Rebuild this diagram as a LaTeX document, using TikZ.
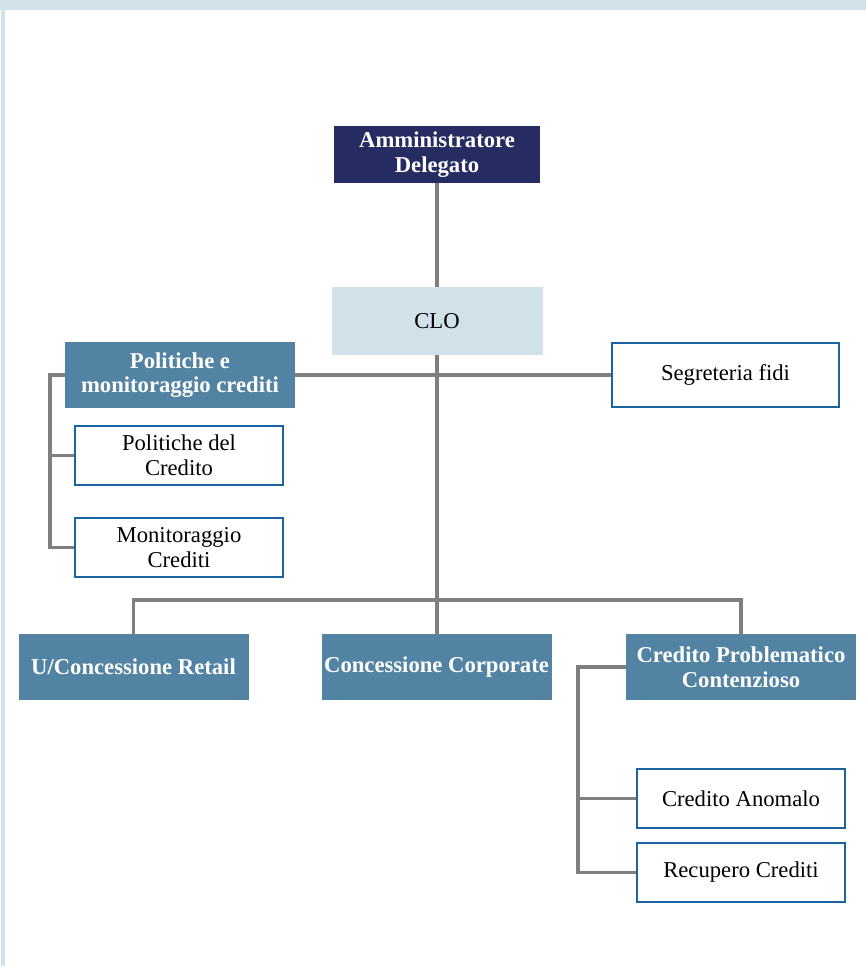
\documentclass[tikz,border=0pt]{standalone}
\usepackage{fontspec}
\setmainfont{Liberation Serif}
\usepackage{tikz}
\definecolor{navybox}{HTML}{262B62}
\definecolor{steelbox}{HTML}{5283A3}
\definecolor{palebox}{HTML}{D0E1E9}
\definecolor{boxline}{HTML}{1B64A0}
\definecolor{linkgray}{HTML}{7F7F7F}
\tikzstyle{node_top} = [fill=navybox, text=white, font=\fontsize{17}{18.5}\selectfont\bfseries, align=center, inner sep=0pt, minimum width=206*0.75pt, minimum height=57*0.75pt]
\tikzstyle{node_clo} = [fill=palebox, font=\fontsize{17}{18.5}\selectfont, align=center, inner sep=0pt, minimum width=211*0.75pt, minimum height=68*0.75pt]
\tikzstyle{node_head} = [fill=steelbox, text=white, font=\fontsize{17}{18.5}\selectfont\bfseries, align=center, inner sep=0pt, minimum width=230*0.75pt, minimum height=66*0.75pt]
\tikzstyle{node_unit} = [draw=boxline, line width=1.6pt, fill=white, font=\fontsize{17}{18.5}\selectfont, align=center, inner sep=0pt, minimum width=208*0.75pt, minimum height=59*0.75pt]
\tikzstyle{node_wide} = [node_unit, minimum width=227*0.75pt, minimum height=64*0.75pt]
\tikzstyle{edge_link} = [draw=linkgray, line width=2.5pt]

\begin{document}
\begin{tikzpicture}[x=0.75pt, y=-0.75pt]
\useasboundingbox (0,0) rectangle (866,966);
\fill[palebox] (0,0) rectangle (866,10);
\fill[palebox] (1,0) rectangle (5,966);

\node (AD) at (437,154.5) [node_top] {Amministratore\\Delegato};
\node (CLO) at (437,321) [node_clo] {CLO};
\node (PMC) at (180,375) [node_head] {Politiche e\\monitoraggio crediti};
\node (SF) at (725.5,375) [node_wide] {Segreteria fidi};
\node (PdC) at (179,455.5) [node_unit] {Politiche del\\Credito};
\node (MC) at (179,547.5) [node_unit] {Monitoraggio\\Crediti};
\node (UCR) at (133.5,667) [node_head] {U/Concessione Retail};
\node (CC) at (436.5,667) [node_head] {Concessione Corporate};
\node (CPC) at (741,667) [node_head] {Credito Problematico\\Contenzioso};
\node (CA) at (741,798.5) [node_unit] {Credito Anomalo};
\node (RC) at (741,872.5) [node_unit] {Recupero Crediti};

\coordinate (lb) at (50,547.5);
\coordinate (rb) at (578,872.5);
\coordinate (br) at (437,600);

\draw[edge_link] (AD.south) -- (CLO.north);
\draw[edge_link] (CLO.south) -- (br);
\draw[edge_link] (PMC.east) -- (SF.west);
\draw[edge_link] (UCR.north) |- (br) -| (CPC.north);
\draw[edge_link] (br) -- (CC.north -| br);
\draw[edge_link] (PMC.west) -| (lb) -- (MC.west);
\draw[edge_link] (PdC.west) -- (PdC.west -| lb);
\draw[edge_link] (CPC.west) -| (rb) -- (RC.west);
\draw[edge_link] (CA.west) -- (CA.west -| rb);
\end{tikzpicture}
\end{document}
